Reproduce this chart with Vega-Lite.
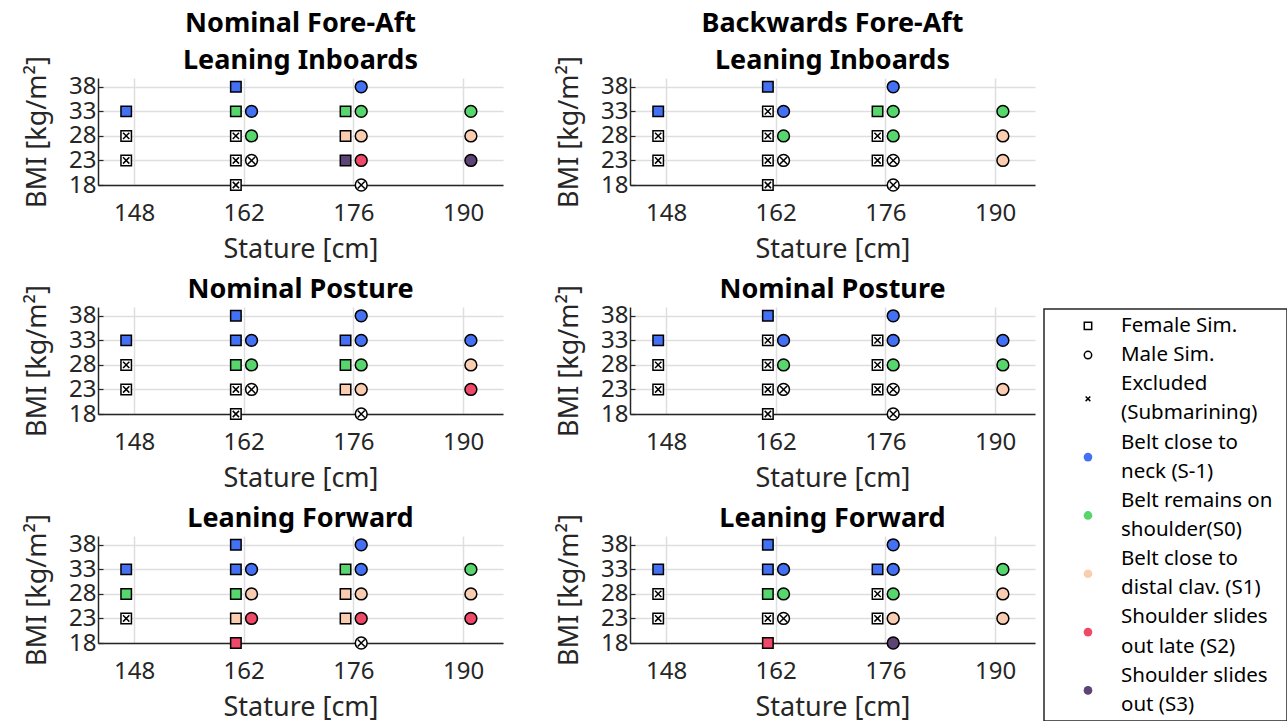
{
"$schema": "https://vega.github.io/schema/vega-lite/v6.json",
"padding": {"left": 23, "top": 9, "right": 0, "bottom": 0},
"background": "white",
"datasets": {
"pts": [
{"p":1,"x":147,"y":33,"s":"F","st":"S-1"},{"p":1,"x":147,"y":28,"s":"F","st":"X"},{"p":1,"x":147,"y":23,"s":"F","st":"X"},
{"p":1,"x":161,"y":38,"s":"F","st":"S-1"},{"p":1,"x":161,"y":33,"s":"F","st":"S0"},{"p":1,"x":161,"y":28,"s":"F","st":"X"},{"p":1,"x":161,"y":23,"s":"F","st":"X"},{"p":1,"x":161,"y":18,"s":"F","st":"X"},
{"p":1,"x":163,"y":33,"s":"M","st":"S-1"},{"p":1,"x":163,"y":28,"s":"M","st":"S0"},{"p":1,"x":163,"y":23,"s":"M","st":"X"},
{"p":1,"x":175,"y":33,"s":"F","st":"S0"},{"p":1,"x":175,"y":28,"s":"F","st":"S1"},{"p":1,"x":175,"y":23,"s":"F","st":"S3"},
{"p":1,"x":177,"y":38,"s":"M","st":"S-1"},{"p":1,"x":177,"y":33,"s":"M","st":"S0"},{"p":1,"x":177,"y":28,"s":"M","st":"S1"},{"p":1,"x":177,"y":23,"s":"M","st":"S2"},{"p":1,"x":177,"y":18,"s":"M","st":"X"},
{"p":1,"x":191,"y":33,"s":"M","st":"S0"},{"p":1,"x":191,"y":28,"s":"M","st":"S1"},{"p":1,"x":191,"y":23,"s":"M","st":"S3"},

{"p":2,"x":147,"y":33,"s":"F","st":"S-1"},{"p":2,"x":147,"y":28,"s":"F","st":"X"},{"p":2,"x":147,"y":23,"s":"F","st":"X"},
{"p":2,"x":161,"y":38,"s":"F","st":"S-1"},{"p":2,"x":161,"y":33,"s":"F","st":"X"},{"p":2,"x":161,"y":28,"s":"F","st":"X"},{"p":2,"x":161,"y":23,"s":"F","st":"X"},{"p":2,"x":161,"y":18,"s":"F","st":"X"},
{"p":2,"x":163,"y":33,"s":"M","st":"S-1"},{"p":2,"x":163,"y":28,"s":"M","st":"S0"},{"p":2,"x":163,"y":23,"s":"M","st":"X"},
{"p":2,"x":175,"y":33,"s":"F","st":"S0"},{"p":2,"x":175,"y":28,"s":"F","st":"X"},{"p":2,"x":175,"y":23,"s":"F","st":"X"},
{"p":2,"x":177,"y":38,"s":"M","st":"S-1"},{"p":2,"x":177,"y":33,"s":"M","st":"S0"},{"p":2,"x":177,"y":28,"s":"M","st":"S0"},{"p":2,"x":177,"y":23,"s":"M","st":"X"},{"p":2,"x":177,"y":18,"s":"M","st":"X"},
{"p":2,"x":191,"y":33,"s":"M","st":"S0"},{"p":2,"x":191,"y":28,"s":"M","st":"S1"},{"p":2,"x":191,"y":23,"s":"M","st":"S1"},

{"p":3,"x":147,"y":33,"s":"F","st":"S-1"},{"p":3,"x":147,"y":28,"s":"F","st":"X"},{"p":3,"x":147,"y":23,"s":"F","st":"X"},
{"p":3,"x":161,"y":38,"s":"F","st":"S-1"},{"p":3,"x":161,"y":33,"s":"F","st":"S-1"},{"p":3,"x":161,"y":28,"s":"F","st":"S0"},{"p":3,"x":161,"y":23,"s":"F","st":"X"},{"p":3,"x":161,"y":18,"s":"F","st":"X"},
{"p":3,"x":163,"y":33,"s":"M","st":"S-1"},{"p":3,"x":163,"y":28,"s":"M","st":"S0"},{"p":3,"x":163,"y":23,"s":"M","st":"X"},
{"p":3,"x":175,"y":33,"s":"F","st":"S-1"},{"p":3,"x":175,"y":28,"s":"F","st":"S0"},{"p":3,"x":175,"y":23,"s":"F","st":"S1"},
{"p":3,"x":177,"y":38,"s":"M","st":"S-1"},{"p":3,"x":177,"y":33,"s":"M","st":"S-1"},{"p":3,"x":177,"y":28,"s":"M","st":"S0"},{"p":3,"x":177,"y":23,"s":"M","st":"S1"},{"p":3,"x":177,"y":18,"s":"M","st":"X"},
{"p":3,"x":191,"y":33,"s":"M","st":"S-1"},{"p":3,"x":191,"y":28,"s":"M","st":"S1"},{"p":3,"x":191,"y":23,"s":"M","st":"S2"},

{"p":4,"x":147,"y":33,"s":"F","st":"S-1"},{"p":4,"x":147,"y":28,"s":"F","st":"X"},{"p":4,"x":147,"y":23,"s":"F","st":"X"},
{"p":4,"x":161,"y":38,"s":"F","st":"S-1"},{"p":4,"x":161,"y":33,"s":"F","st":"X"},{"p":4,"x":161,"y":28,"s":"F","st":"X"},{"p":4,"x":161,"y":23,"s":"F","st":"X"},{"p":4,"x":161,"y":18,"s":"F","st":"X"},
{"p":4,"x":163,"y":33,"s":"M","st":"S-1"},{"p":4,"x":163,"y":28,"s":"M","st":"S0"},{"p":4,"x":163,"y":23,"s":"M","st":"X"},
{"p":4,"x":175,"y":33,"s":"F","st":"X"},{"p":4,"x":175,"y":28,"s":"F","st":"X"},{"p":4,"x":175,"y":23,"s":"F","st":"X"},
{"p":4,"x":177,"y":38,"s":"M","st":"S-1"},{"p":4,"x":177,"y":33,"s":"M","st":"S-1"},{"p":4,"x":177,"y":28,"s":"M","st":"S0"},{"p":4,"x":177,"y":23,"s":"M","st":"X"},{"p":4,"x":177,"y":18,"s":"M","st":"X"},
{"p":4,"x":191,"y":33,"s":"M","st":"S-1"},{"p":4,"x":191,"y":28,"s":"M","st":"S0"},{"p":4,"x":191,"y":23,"s":"M","st":"S1"},

{"p":5,"x":147,"y":33,"s":"F","st":"S-1"},{"p":5,"x":147,"y":28,"s":"F","st":"S0"},{"p":5,"x":147,"y":23,"s":"F","st":"X"},
{"p":5,"x":161,"y":38,"s":"F","st":"S-1"},{"p":5,"x":161,"y":33,"s":"F","st":"S-1"},{"p":5,"x":161,"y":28,"s":"F","st":"S0"},{"p":5,"x":161,"y":23,"s":"F","st":"S1"},{"p":5,"x":161,"y":18,"s":"F","st":"S2"},
{"p":5,"x":163,"y":33,"s":"M","st":"S-1"},{"p":5,"x":163,"y":28,"s":"M","st":"S1"},{"p":5,"x":163,"y":23,"s":"M","st":"S2"},
{"p":5,"x":175,"y":33,"s":"F","st":"S0"},{"p":5,"x":175,"y":28,"s":"F","st":"S1"},{"p":5,"x":175,"y":23,"s":"F","st":"S1"},
{"p":5,"x":177,"y":38,"s":"M","st":"S-1"},{"p":5,"x":177,"y":33,"s":"M","st":"S-1"},{"p":5,"x":177,"y":28,"s":"M","st":"S1"},{"p":5,"x":177,"y":23,"s":"M","st":"S2"},{"p":5,"x":177,"y":18,"s":"M","st":"X"},
{"p":5,"x":191,"y":33,"s":"M","st":"S0"},{"p":5,"x":191,"y":28,"s":"M","st":"S1"},{"p":5,"x":191,"y":23,"s":"M","st":"S2"},

{"p":6,"x":147,"y":33,"s":"F","st":"S-1"},{"p":6,"x":147,"y":28,"s":"F","st":"X"},{"p":6,"x":147,"y":23,"s":"F","st":"X"},
{"p":6,"x":161,"y":38,"s":"F","st":"S-1"},{"p":6,"x":161,"y":33,"s":"F","st":"S-1"},{"p":6,"x":161,"y":28,"s":"F","st":"S0"},{"p":6,"x":161,"y":23,"s":"F","st":"X"},{"p":6,"x":161,"y":18,"s":"F","st":"S2"},
{"p":6,"x":163,"y":33,"s":"M","st":"S-1"},{"p":6,"x":163,"y":28,"s":"M","st":"S0"},{"p":6,"x":163,"y":23,"s":"M","st":"X"},
{"p":6,"x":175,"y":33,"s":"F","st":"S-1"},{"p":6,"x":175,"y":28,"s":"F","st":"X"},{"p":6,"x":175,"y":23,"s":"F","st":"X"},
{"p":6,"x":177,"y":38,"s":"M","st":"S-1"},{"p":6,"x":177,"y":33,"s":"M","st":"S-1"},{"p":6,"x":177,"y":28,"s":"M","st":"S0"},{"p":6,"x":177,"y":23,"s":"M","st":"S1"},{"p":6,"x":177,"y":18,"s":"M","st":"S3"},
{"p":6,"x":191,"y":33,"s":"M","st":"S0"},{"p":6,"x":191,"y":28,"s":"M","st":"S1"},{"p":6,"x":191,"y":23,"s":"M","st":"S1"}
],
"legSym": [
{"k":"F","y":0},{"k":"M","y":1},{"k":"X","y":2.5},{"k":"S-1","y":4.5},{"k":"S0","y":6.5},{"k":"S1","y":8.5},{"k":"S2","y":10.5},{"k":"S3","y":12.5}
],
"legText": [
{"t":"Female Sim.","y":0},{"t":"Male Sim.","y":1},{"t":"Excluded","y":2},{"t":"\u00a0(Submarining)","y":3},
{"t":"Belt close to","y":4},{"t":"neck (S-1)","y":5},{"t":"Belt remains on","y":6},{"t":"shoulder(S0)","y":7},
{"t":"Belt close to","y":8},{"t":"distal clav. (S1)","y":9},{"t":"Shoulder slides","y":10},{"t":"out late (S2)","y":11},
{"t":"Shoulder slides","y":12},{"t":"\u00a0out (S3)","y":13}
]
},
"config": {
"view": {"stroke": null},
"font": "Noto Sans",
"axis": {"labelFont": "Noto Sans", "labelFontSize": 24, "labelColor": "#262626", "titleFont": "Noto Sans", "titleFontSize": 27, "titleFontWeight": "normal", "titleColor": "#262626", "domainColor": "#262626", "domainWidth": 1.5, "gridColor": "#dedede", "gridWidth": 1.5, "tickColor": "#262626", "labelFlush": false, "labelOverlap": false, "labelBound": false},
"axisX": {"ticks": false, "labelPadding": 16, "titlePadding": 11},
"axisY": {"ticks": true, "tickSize": -5, "tickWidth": 1.2, "labelPadding": 7, "titlePadding": 17},
"title": {"font": "Noto Sans", "fontSize": 27, "fontWeight": "bold", "color": "#000000", "offset": -19, "lineHeight": 37, "frame": "group"}
},
"hconcat": [
{
"columns": 2,
"align": "each",
"spacing": {"row": 13, "column": 52},
"concat": [
{"width": 405, "height": 107, "title": {"text": ["Nominal Fore-Aft", "Leaning Inboards"]}, "data": {"name": "pts"}, "transform": [{"filter": "datum.p == 1"}],
"encoding": {"x": {"field": "x", "type": "quantitative", "scale": {"domain": [143.4, 195.1], "nice": false, "zero": false}, "axis": {"values": [148,162,176,190], "title": "Stature [cm]"}}, "y": {"field": "y", "type": "quantitative", "scale": {"domain": [18, 39.8], "nice": false, "zero": false}, "axis": {"values": [18,23,28,33,38], "title": "BMI [kg/m²]"}}},
"layer": [
{"mark": {"type": "point", "filled": true, "stroke": "#000000", "strokeWidth": 1.5, "opacity": 1}, "encoding": {"shape": {"field": "s", "type": "nominal", "scale": {"domain": ["F","M"], "range": ["square","circle"]}, "legend": null}, "fill": {"field": "st", "type": "nominal", "scale": {"domain": ["S-1","S0","S1","S2","S3","X"], "range": ["#4470f4","#58d66e","#fbcdb0","#ef4868","#5d4474","#ffffff"]}, "legend": null}, "size": {"field": "s", "type": "ordinal", "scale": {"domain": ["F","M"], "range": [110,140]}, "legend": null}}},
{"transform": [{"filter": "datum.st == 'X'"}], "mark": {"type": "point", "shape": "M-0.6,-0.6L0.6,0.6M-0.6,0.6L0.6,-0.6", "filled": false, "stroke": "#000000", "strokeWidth": 1.5, "opacity": 1}, "encoding": {"size": {"field": "s", "type": "ordinal", "scale": {"domain": ["F","M"], "range": [110,140]}, "legend": null}}}
]},
{"width": 405, "height": 107, "title": {"text": ["Backwards Fore-Aft", "Leaning Inboards"]}, "data": {"name": "pts"}, "transform": [{"filter": "datum.p == 2"}],
"encoding": {"x": {"field": "x", "type": "quantitative", "scale": {"domain": [143.4, 195.1], "nice": false, "zero": false}, "axis": {"values": [148,162,176,190], "title": "Stature [cm]"}}, "y": {"field": "y", "type": "quantitative", "scale": {"domain": [18, 39.8], "nice": false, "zero": false}, "axis": {"values": [18,23,28,33,38], "title": "BMI [kg/m²]"}}},
"layer": [
{"mark": {"type": "point", "filled": true, "stroke": "#000000", "strokeWidth": 1.5, "opacity": 1}, "encoding": {"shape": {"field": "s", "type": "nominal", "scale": {"domain": ["F","M"], "range": ["square","circle"]}, "legend": null}, "fill": {"field": "st", "type": "nominal", "scale": {"domain": ["S-1","S0","S1","S2","S3","X"], "range": ["#4470f4","#58d66e","#fbcdb0","#ef4868","#5d4474","#ffffff"]}, "legend": null}, "size": {"field": "s", "type": "ordinal", "scale": {"domain": ["F","M"], "range": [110,140]}, "legend": null}}},
{"transform": [{"filter": "datum.st == 'X'"}], "mark": {"type": "point", "shape": "M-0.6,-0.6L0.6,0.6M-0.6,0.6L0.6,-0.6", "filled": false, "stroke": "#000000", "strokeWidth": 1.5, "opacity": 1}, "encoding": {"size": {"field": "s", "type": "ordinal", "scale": {"domain": ["F","M"], "range": [110,140]}, "legend": null}}}
]},
{"width": 405, "height": 107, "title": {"text": "Nominal Posture"}, "data": {"name": "pts"}, "transform": [{"filter": "datum.p == 3"}],
"encoding": {"x": {"field": "x", "type": "quantitative", "scale": {"domain": [143.4, 195.1], "nice": false, "zero": false}, "axis": {"values": [148,162,176,190], "title": "Stature [cm]"}}, "y": {"field": "y", "type": "quantitative", "scale": {"domain": [18, 39.8], "nice": false, "zero": false}, "axis": {"values": [18,23,28,33,38], "title": "BMI [kg/m²]"}}},
"layer": [
{"mark": {"type": "point", "filled": true, "stroke": "#000000", "strokeWidth": 1.5, "opacity": 1}, "encoding": {"shape": {"field": "s", "type": "nominal", "scale": {"domain": ["F","M"], "range": ["square","circle"]}, "legend": null}, "fill": {"field": "st", "type": "nominal", "scale": {"domain": ["S-1","S0","S1","S2","S3","X"], "range": ["#4470f4","#58d66e","#fbcdb0","#ef4868","#5d4474","#ffffff"]}, "legend": null}, "size": {"field": "s", "type": "ordinal", "scale": {"domain": ["F","M"], "range": [110,140]}, "legend": null}}},
{"transform": [{"filter": "datum.st == 'X'"}], "mark": {"type": "point", "shape": "M-0.6,-0.6L0.6,0.6M-0.6,0.6L0.6,-0.6", "filled": false, "stroke": "#000000", "strokeWidth": 1.5, "opacity": 1}, "encoding": {"size": {"field": "s", "type": "ordinal", "scale": {"domain": ["F","M"], "range": [110,140]}, "legend": null}}}
]},
{"width": 405, "height": 107, "title": {"text": "Nominal Posture"}, "data": {"name": "pts"}, "transform": [{"filter": "datum.p == 4"}],
"encoding": {"x": {"field": "x", "type": "quantitative", "scale": {"domain": [143.4, 195.1], "nice": false, "zero": false}, "axis": {"values": [148,162,176,190], "title": "Stature [cm]"}}, "y": {"field": "y", "type": "quantitative", "scale": {"domain": [18, 39.8], "nice": false, "zero": false}, "axis": {"values": [18,23,28,33,38], "title": "BMI [kg/m²]"}}},
"layer": [
{"mark": {"type": "point", "filled": true, "stroke": "#000000", "strokeWidth": 1.5, "opacity": 1}, "encoding": {"shape": {"field": "s", "type": "nominal", "scale": {"domain": ["F","M"], "range": ["square","circle"]}, "legend": null}, "fill": {"field": "st", "type": "nominal", "scale": {"domain": ["S-1","S0","S1","S2","S3","X"], "range": ["#4470f4","#58d66e","#fbcdb0","#ef4868","#5d4474","#ffffff"]}, "legend": null}, "size": {"field": "s", "type": "ordinal", "scale": {"domain": ["F","M"], "range": [110,140]}, "legend": null}}},
{"transform": [{"filter": "datum.st == 'X'"}], "mark": {"type": "point", "shape": "M-0.6,-0.6L0.6,0.6M-0.6,0.6L0.6,-0.6", "filled": false, "stroke": "#000000", "strokeWidth": 1.5, "opacity": 1}, "encoding": {"size": {"field": "s", "type": "ordinal", "scale": {"domain": ["F","M"], "range": [110,140]}, "legend": null}}}
]},
{"width": 405, "height": 107, "title": {"text": "Leaning Forward"}, "data": {"name": "pts"}, "transform": [{"filter": "datum.p == 5"}],
"encoding": {"x": {"field": "x", "type": "quantitative", "scale": {"domain": [143.4, 195.1], "nice": false, "zero": false}, "axis": {"values": [148,162,176,190], "title": "Stature [cm]"}}, "y": {"field": "y", "type": "quantitative", "scale": {"domain": [18, 39.8], "nice": false, "zero": false}, "axis": {"values": [18,23,28,33,38], "title": "BMI [kg/m²]"}}},
"layer": [
{"mark": {"type": "point", "filled": true, "stroke": "#000000", "strokeWidth": 1.5, "opacity": 1}, "encoding": {"shape": {"field": "s", "type": "nominal", "scale": {"domain": ["F","M"], "range": ["square","circle"]}, "legend": null}, "fill": {"field": "st", "type": "nominal", "scale": {"domain": ["S-1","S0","S1","S2","S3","X"], "range": ["#4470f4","#58d66e","#fbcdb0","#ef4868","#5d4474","#ffffff"]}, "legend": null}, "size": {"field": "s", "type": "ordinal", "scale": {"domain": ["F","M"], "range": [110,140]}, "legend": null}}},
{"transform": [{"filter": "datum.st == 'X'"}], "mark": {"type": "point", "shape": "M-0.6,-0.6L0.6,0.6M-0.6,0.6L0.6,-0.6", "filled": false, "stroke": "#000000", "strokeWidth": 1.5, "opacity": 1}, "encoding": {"size": {"field": "s", "type": "ordinal", "scale": {"domain": ["F","M"], "range": [110,140]}, "legend": null}}}
]},
{"width": 405, "height": 107, "title": {"text": "Leaning Forward"}, "data": {"name": "pts"}, "transform": [{"filter": "datum.p == 6"}],
"encoding": {"x": {"field": "x", "type": "quantitative", "scale": {"domain": [143.4, 195.1], "nice": false, "zero": false}, "axis": {"values": [148,162,176,190], "title": "Stature [cm]"}}, "y": {"field": "y", "type": "quantitative", "scale": {"domain": [18, 39.8], "nice": false, "zero": false}, "axis": {"values": [18,23,28,33,38], "title": "BMI [kg/m²]"}}},
"layer": [
{"mark": {"type": "point", "filled": true, "stroke": "#000000", "strokeWidth": 1.5, "opacity": 1}, "encoding": {"shape": {"field": "s", "type": "nominal", "scale": {"domain": ["F","M"], "range": ["square","circle"]}, "legend": null}, "fill": {"field": "st", "type": "nominal", "scale": {"domain": ["S-1","S0","S1","S2","S3","X"], "range": ["#4470f4","#58d66e","#fbcdb0","#ef4868","#5d4474","#ffffff"]}, "legend": null}, "size": {"field": "s", "type": "ordinal", "scale": {"domain": ["F","M"], "range": [110,140]}, "legend": null}}},
{"transform": [{"filter": "datum.st == 'X'"}], "mark": {"type": "point", "shape": "M-0.6,-0.6L0.6,0.6M-0.6,0.6L0.6,-0.6", "filled": false, "stroke": "#000000", "strokeWidth": 1.5, "opacity": 1}, "encoding": {"size": {"field": "s", "type": "ordinal", "scale": {"domain": ["F","M"], "range": [110,140]}, "legend": null}}}
]}
]
},
{
"spacing": 0,
"vconcat": [
{"width": 243, "height": 230, "data": {"values": []}, "mark": {"type": "point", "opacity": 0}, "encoding": {}},
{"width": 243, "height": 412, "view": {"stroke": "#262626", "strokeWidth": 1.5, "fill": "white"},
"encoding": {"y": {"field": "y", "type": "quantitative", "scale": {"domain": [-0.58, 13.55], "reverse": true, "nice": false, "zero": false}, "axis": null}},
"layer": [
{"data": {"name": "legText"}, "mark": {"type": "text", "align": "left", "baseline": "middle", "fontSize": 20.5, "font": "Noto Sans", "color": "#000000"}, "encoding": {"x": {"datum": 0.317, "type": "quantitative", "scale": {"domain": [0, 1], "nice": false, "zero": false}, "axis": null}, "text": {"field": "t"}}},
{"data": {"name": "legSym"}, "transform": [{"filter": "datum.k == 'F' || datum.k == 'M'"}], "mark": {"type": "point", "filled": false, "stroke": "#000000", "strokeWidth": 1.5, "opacity": 1, "size": 55}, "encoding": {"x": {"datum": 0.181, "type": "quantitative"}, "shape": {"field": "k", "type": "nominal", "scale": {"domain": ["F","M"], "range": ["square","circle"]}, "legend": null}}},
{"data": {"name": "legSym"}, "transform": [{"filter": "datum.k == 'X'"}], "mark": {"type": "point", "shape": "M-0.6,-0.6L0.6,0.6M-0.6,0.6L0.6,-0.6", "filled": false, "stroke": "#000000", "strokeWidth": 1.5, "opacity": 1, "size": 60}, "encoding": {"x": {"datum": 0.181, "type": "quantitative"}}},
{"data": {"name": "legSym"}, "transform": [{"filter": "datum.k != 'F' && datum.k != 'M' && datum.k != 'X'"}], "mark": {"type": "point", "filled": true, "opacity": 1, "size": 75}, "encoding": {"x": {"datum": 0.181, "type": "quantitative"}, "fill": {"field": "k", "type": "nominal", "scale": {"domain": ["S-1","S0","S1","S2","S3"], "range": ["#4470f4","#58d66e","#fbcdb0","#ef4868","#5d4474"]}, "legend": null}}}
]}
]
}
],
"spacing": 8
}
